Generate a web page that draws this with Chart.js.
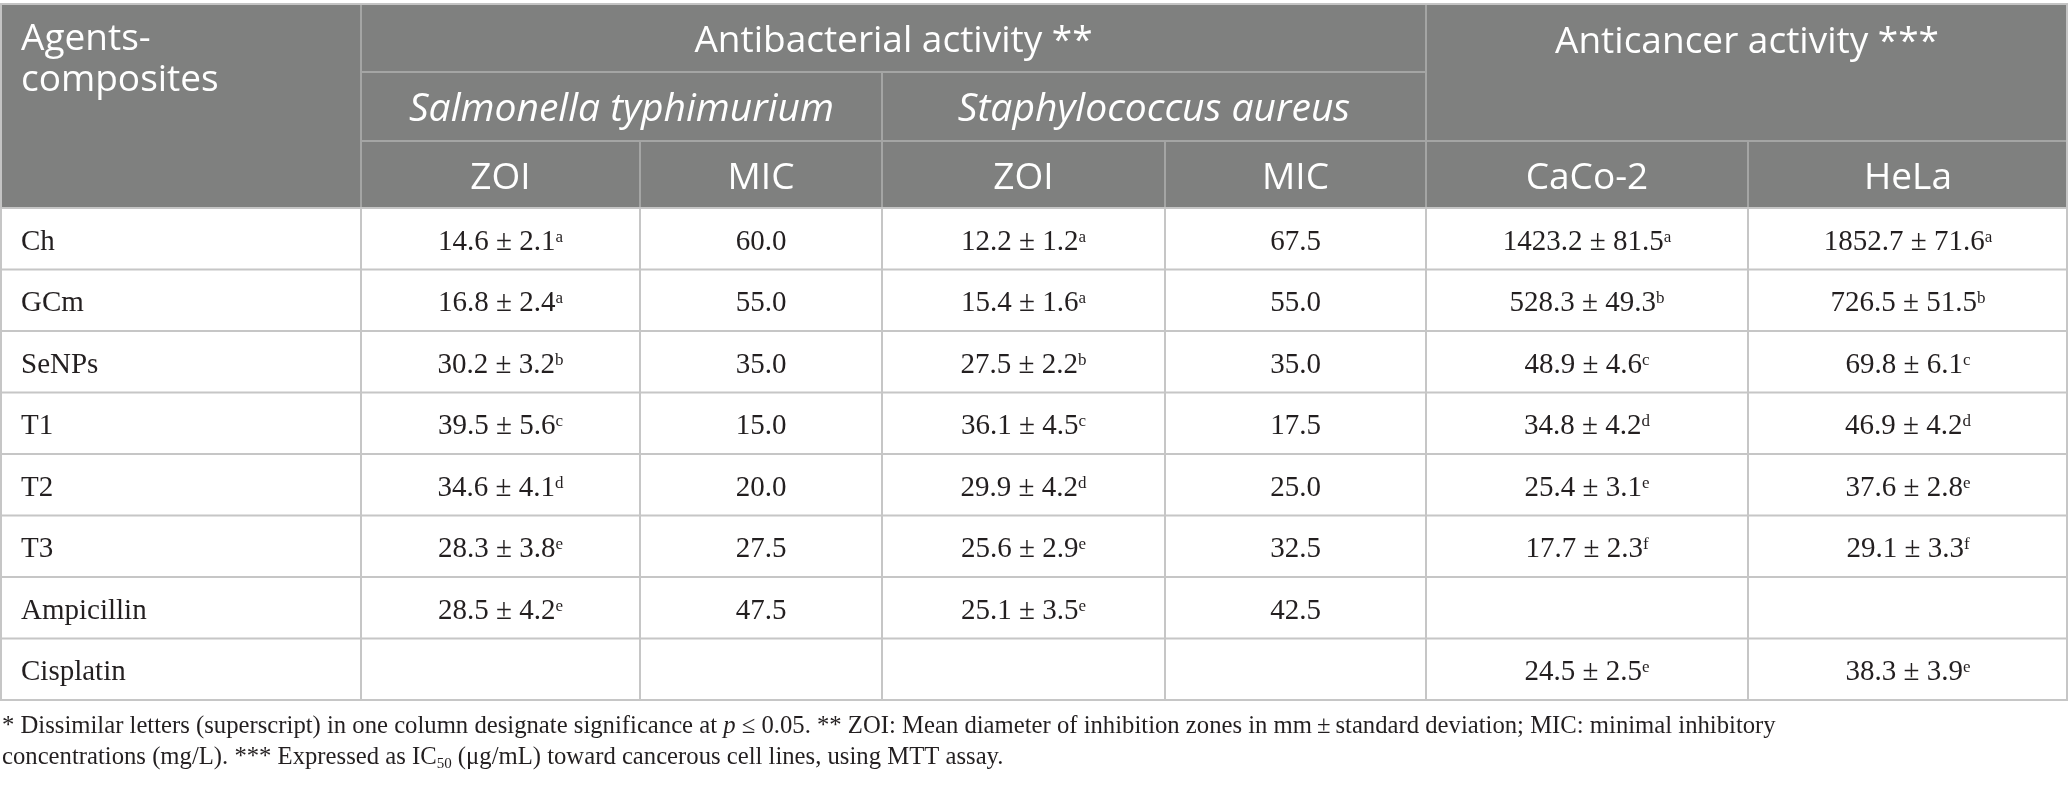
<!DOCTYPE html>
<html>
<head>
<meta charset="utf-8">
<script src="https://cdn.jsdelivr.net/npm/chart.js@4.4.1/dist/chart.umd.min.js"></script>
<style>
  html, body { margin: 0; padding: 0; background: #ffffff; }
  #wrap { width: 2068px; height: 792px; position: relative; }
</style>
</head>
<body>
<div id="wrap"><canvas id="c"></canvas></div>
<script>
// ---------- DATA ----------
const agents = ['Ch', 'GCm', 'SeNPs', 'T1', 'T2', 'T3', 'Ampicillin', 'Cisplatin'];
const subColumns = ['ZOI', 'MIC', 'ZOI', 'MIC', 'CaCo-2', 'HeLa'];
const organisms = ['Salmonella typhimurium', 'Staphylococcus aureus'];
const groupHeaders = ['Antibacterial activity **', 'Anticancer activity ***'];
const rowHeader = ['Agents-', 'composites'];

// Salmonella typhimurium
const stZoiMean = [14.6, 16.8, 30.2, 39.5, 34.6, 28.3, 28.5, null];
const stZoiSd   = [2.1, 2.4, 3.2, 5.6, 4.1, 3.8, 4.2, null];
const stZoiSig  = ['a', 'a', 'b', 'c', 'd', 'e', 'e', null];
const stMic     = [60.0, 55.0, 35.0, 15.0, 20.0, 27.5, 47.5, null];
// Staphylococcus aureus
const saZoiMean = [12.2, 15.4, 27.5, 36.1, 29.9, 25.6, 25.1, null];
const saZoiSd   = [1.2, 1.6, 2.2, 4.5, 4.2, 2.9, 3.5, null];
const saZoiSig  = ['a', 'a', 'b', 'c', 'd', 'e', 'e', null];
const saMic     = [67.5, 55.0, 35.0, 17.5, 25.0, 32.5, 42.5, null];
// Anticancer IC50
const cacoMean  = [1423.2, 528.3, 48.9, 34.8, 25.4, 17.7, null, 24.5];
const cacoSd    = [81.5, 49.3, 4.6, 4.2, 3.1, 2.3, null, 2.5];
const cacoSig   = ['a', 'b', 'c', 'd', 'e', 'f', null, 'e'];
const helaMean  = [1852.7, 726.5, 69.8, 46.9, 37.6, 29.1, null, 38.3];
const helaSd    = [71.6, 51.5, 6.1, 4.2, 2.8, 3.3, null, 3.9];
const helaSig   = ['a', 'b', 'c', 'd', 'e', 'f', null, 'e'];

const footLine1 = [
  ['* Dissimilar letters (superscript) in one column designate significance at ', 'n'],
  ['p', 'i'],
  [' \u2264 0.05. ** ZOI: Mean diameter of inhibition zones in mm\u2009\u00b1\u2009standard deviation; MIC: minimal inhibitory', 'n']
];
const footLine2 = [
  ['concentrations (mg/L). *** Expressed as IC', 'n'],
  ['50', 'sub'],
  [' (\u03bcg/mL) toward cancerous cell lines, using MTT assay.', 'n']
];

// ---------- LAYOUT / STYLE ----------
const colEdges = [0, 361, 640, 882, 1165, 1426, 1748, 2068];
const headerTop = 4;
const headerRow1 = 72;
const headerRow2 = 141;
const SERIF = '"Liberation Serif", "DejaVu Serif", serif';
const SANS = '"Open Sans", Lato, sans-serif';
const HEAD_BG = '#7f807f';
const HEAD_LINE = '#a4a5a4';
const BODY_LINE = '#c6c6c6';
const TEXT = '#231f20';
const BODY_SIZE = 29;
const FOOT_SIZE = 24.7;
const HEAD_SIZE = 37;
const ITALIC_HEAD_SIZE = 39;

function fmt1(v) { return v.toFixed(1); }

function cellSegments(mean, sd, sig) {
  if (mean === null || mean === undefined) return null;
  if (sd === undefined) return [[fmt1(mean), 'n']];
  return [[fmt1(mean) + ' \u00b1 ' + fmt1(sd), 'n'], [sig, 'sup']];
}

function segFont(kind, size) {
  if (kind === 'sup' || kind === 'sub') return Math.round(size * 0.6) + 'px ' + SERIF;
  if (kind === 'i') return 'italic ' + size + 'px ' + SERIF;
  return size + 'px ' + SERIF;
}

function richWidth(ctx, segs, size) {
  let w = 0;
  for (const [t, k] of segs) { ctx.font = segFont(k, size); w += ctx.measureText(t).width; }
  return w;
}

function drawRich(ctx, segs, x, y, size, align) {
  const w = richWidth(ctx, segs, size);
  let cx = align === 'center' ? x - w / 2 : x;
  ctx.textAlign = 'left';
  ctx.textBaseline = 'alphabetic';
  for (const [t, k] of segs) {
    ctx.font = segFont(k, size);
    let dy = 0;
    if (k === 'sup') dy = -size * 0.28;
    if (k === 'sub') dy = size * 0.18;
    ctx.fillText(t, cx, y + dy);
    cx += ctx.measureText(t).width;
  }
}

function line(ctx, x1, y1, x2, y2, color, w) {
  ctx.strokeStyle = color;
  ctx.lineWidth = w;
  ctx.beginPath();
  ctx.moveTo(x1, y1);
  ctx.lineTo(x2, y2);
  ctx.stroke();
}

const tablePlugin = {
  id: 'tablePlugin',
  afterDraw(chart) {
    const ctx = chart.ctx;
    const xs = chart.scales.x;
    const ys = chart.scales.y;
    const area = chart.chartArea;
    const X = v => xs.getPixelForValue(v);
    const band = (area.bottom - area.top) / agents.length;
    const edges = colEdges.map(X);

    ctx.save();
    // header background
    ctx.fillStyle = HEAD_BG;
    ctx.fillRect(edges[0], headerTop, edges[7] - edges[0], area.top - headerTop);

    // header inner lines
    line(ctx, edges[1], headerRow1, edges[5], headerRow1, HEAD_LINE, 2);
    line(ctx, edges[1], headerRow2, edges[7], headerRow2, HEAD_LINE, 2);
    line(ctx, edges[1], headerTop, edges[1], area.top, HEAD_LINE, 2);
    line(ctx, edges[5], headerTop, edges[5], area.top, HEAD_LINE, 2);
    line(ctx, edges[3], headerRow1, edges[3], area.top, HEAD_LINE, 2);
    [2, 4, 6].forEach(i => line(ctx, edges[i], headerRow2, edges[i], area.top, HEAD_LINE, 2));

    // header texts
    ctx.fillStyle = '#ffffff';
    ctx.textBaseline = 'alphabetic';
    ctx.font = HEAD_SIZE + 'px ' + SANS;
    ctx.textAlign = 'left';
    ctx.fillText(rowHeader[0], 21, 50);
    ctx.fillText(rowHeader[1], 21, 91);
    ctx.textAlign = 'center';
    ctx.fillText(groupHeaders[0], (edges[1] + edges[5]) / 2, 52);
    ctx.fillText(groupHeaders[1], (edges[5] + edges[7]) / 2, 53);
    ctx.font = 'italic ' + ITALIC_HEAD_SIZE + 'px ' + SANS;
    ctx.fillText(organisms[0], (edges[1] + edges[3]) / 2, 121);
    ctx.fillText(organisms[1], (edges[3] + edges[5]) / 2, 121);
    ctx.font = HEAD_SIZE + 'px ' + SANS;
    subColumns.forEach((s, i) => {
      ctx.fillText(s, (edges[i + 1] + edges[i + 2]) / 2, 189);
    });

    // body lines
    for (let r = 0; r <= agents.length; r++) {
      const yy = ys.getPixelForValue(0) - band / 2 + r * band;
      line(ctx, edges[0], yy, edges[7], yy, BODY_LINE, 2);
    }
    edges.forEach((ex, i) => {
      let xx = ex;
      if (i === 0) xx = ex + 1;
      if (i === 7) xx = ex - 1;
      line(ctx, xx, area.top, xx, area.bottom + 1, BODY_LINE, 2);
    });
    line(ctx, edges[0], headerTop, edges[7], headerTop, '#c4c4c4', 2);
    line(ctx, edges[0] + 1, headerTop, edges[0] + 1, area.top, '#c4c4c4', 2);
    line(ctx, edges[7] - 1, headerTop, edges[7] - 1, area.top, '#c4c4c4', 2);

    // body text
    ctx.fillStyle = TEXT;
    const cols = [
      i => cellSegments(stZoiMean[i], stZoiSd[i], stZoiSig[i]),
      i => cellSegments(stMic[i]),
      i => cellSegments(saZoiMean[i], saZoiSd[i], saZoiSig[i]),
      i => cellSegments(saMic[i]),
      i => cellSegments(cacoMean[i], cacoSd[i], cacoSig[i]),
      i => cellSegments(helaMean[i], helaSd[i], helaSig[i])
    ];
    agents.forEach((a, i) => {
      const cy = ys.getPixelForValue(i);
      const by = cy + 11;
      ctx.font = BODY_SIZE + 'px ' + SERIF;
      ctx.textAlign = 'left';
      ctx.textBaseline = 'alphabetic';
      ctx.fillText(a, 21, by);
      cols.forEach((fn, c) => {
        const segs = fn(i);
        if (segs) drawRich(ctx, segs, (edges[c + 1] + edges[c + 2]) / 2, by, BODY_SIZE, 'center');
      });
    });

    // footnote
    drawRich(ctx, footLine1, 2, 733, FOOT_SIZE, 'left');
    drawRich(ctx, footLine2, 2, 764, FOOT_SIZE, 'left');
    ctx.restore();
  }
};

new Chart(document.getElementById('c'), {
  type: 'bar',
  data: { labels: agents, datasets: [{ data: [], backgroundColor: 'rgba(0,0,0,0)' }] },
  options: {
    indexAxis: 'y',
    responsive: true,
    maintainAspectRatio: false,
    animation: false,
    devicePixelRatio: 1,
    layout: { padding: { top: 208, bottom: 92, left: 0, right: 0 } },
    scales: {
      x: { type: 'linear', min: 0, max: 2068, display: false },
      y: { type: 'category', offset: true, display: false }
    },
    plugins: { legend: { display: false }, tooltip: { enabled: false }, title: { display: false } }
  },
  plugins: [tablePlugin]
});
</script>
</body>
</html>
